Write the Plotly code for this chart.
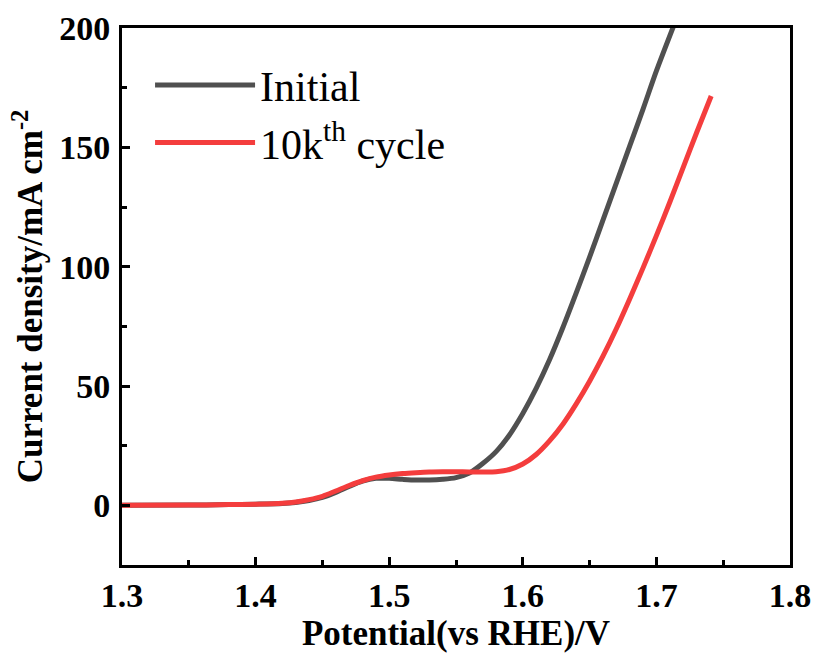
import plotly.graph_objects as go

# Initial curve
v_initial = [1.30, 1.35, 1.38, 1.40, 1.42, 1.43, 1.44, 1.45, 1.46, 1.47, 1.48, 1.49, 1.50, 1.51,
             1.52, 1.53, 1.54, 1.55, 1.56, 1.57, 1.58, 1.59, 1.60, 1.61, 1.62, 1.63, 1.64,
             1.65, 1.66, 1.67, 1.68, 1.69, 1.70, 1.713]
j_initial = [0.0, 0.1, 0.3, 0.5, 0.8, 1.2, 2.0, 3.3, 5.4, 7.9, 10.1, 11.3, 11.3, 10.9,
             10.6, 10.6, 10.9, 11.6, 13.5, 17.5, 22.5, 29.5, 38.5, 49.0, 61.0, 74.5, 89.0,
             104.0, 119.5, 135.0, 150.5, 166.0, 182.0, 201.0]

# 10k-th cycle curve
v_cycle = [1.30, 1.35, 1.38, 1.40, 1.42, 1.43, 1.44, 1.45, 1.46, 1.47, 1.48, 1.49, 1.50, 1.51,
           1.52, 1.53, 1.54, 1.55, 1.56, 1.57, 1.58, 1.59, 1.60, 1.61, 1.62, 1.63, 1.64,
           1.65, 1.66, 1.67, 1.68, 1.69, 1.70, 1.71, 1.72, 1.73, 1.741]
j_cycle = [0.0, 0.1, 0.3, 0.5, 0.9, 1.4, 2.4, 3.8, 6.0, 8.3, 10.3, 11.8, 12.7, 13.3,
           13.7, 14.0, 14.1, 14.1, 14.0, 14.0, 14.1, 15.0, 17.3, 21.3, 27.0, 34.0, 42.5,
           52.0, 62.5, 74.0, 86.5, 99.5, 113.0, 127.0, 141.5, 156.0, 171.5]

series_names = ["Initial", "10k<sup>th</sup> cycle"]
series_colors = ["#505050", "#F43D3D"]

x_ticks = [1.3, 1.4, 1.5, 1.6, 1.7, 1.8]
y_ticks = [0, 50, 100, 150, 200]

FONT = "Times New Roman, Liberation Serif, serif"

fig = go.Figure()
for v, j, name, col in zip([v_initial, v_cycle], [j_initial, j_cycle], series_names, series_colors):
    fig.add_trace(go.Scatter(x=v, y=j, mode="lines", name=name,
                             line=dict(color=col, width=5, shape="spline", smoothing=0.8)))

axis_common = dict(showgrid=False, zeroline=False, showline=True, linecolor="black",
                   linewidth=3, mirror=True, ticks="inside", ticklen=8, tickwidth=3,
                   tickcolor="black", automargin=False,
                   tickfont=dict(family=FONT, size=34, color="black", weight="bold"))

fig.update_xaxes(range=[1.3, 1.8], tickvals=x_ticks, ticktext=[f"{t:.1f}" for t in x_ticks],
                 minor=dict(ticks="inside", ticklen=5, tickwidth=3, tickcolor="black", dtick=0.05),
                 ticklabelstandoff=-2,
                 title=dict(text="Potential(vs RHE)/V", standoff=8,
                            font=dict(family=FONT, size=35, color="black", weight="bold")),
                 **axis_common)
fig.update_yaxes(range=[-25, 200], tickvals=y_ticks, ticktext=[str(t) for t in y_ticks],
                 minor=dict(ticks="inside", ticklen=5, tickwidth=3, tickcolor="black", dtick=25),
                 ticklabelstandoff=2,
                 title=dict(text="Current density/mA cm<sup>-2</sup>", standoff=6,
                            font=dict(family=FONT, size=35, color="black", weight="bold")),
                 **axis_common)

fig.update_layout(
    width=818, height=657,
    margin=dict(l=122, r=28, t=28, b=92),
    paper_bgcolor="white", plot_bgcolor="white",
    showlegend=True,
    legend=dict(x=0.042, y=0.957, xanchor="left", yanchor="top",
                bgcolor="rgba(0,0,0,0)", borderwidth=0, itemwidth=100,
                font=dict(family=FONT, size=42, color="black")),
)

fig.write_html("out.html")
